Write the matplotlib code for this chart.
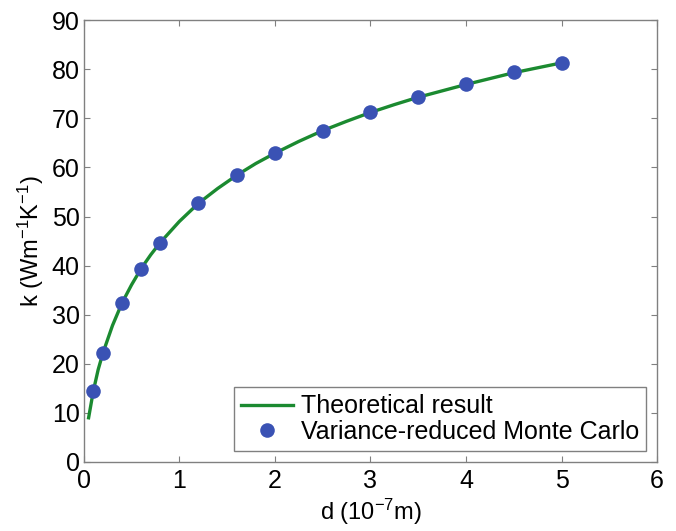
import matplotlib
matplotlib.use("Agg")
import matplotlib.pyplot as plt

plt.rcParams.update({"font.family": ["Liberation Sans", "DejaVu Sans"],
                     "mathtext.fontset": "custom",
                     "mathtext.rm": "Liberation Sans",
                     "mathtext.it": "Liberation Sans",
                     "mathtext.default": "regular"})

# theoretical curve
d_theory = [0.05, 0.1, 0.15, 0.2, 0.3, 0.4, 0.5, 0.6, 0.7, 0.8, 1.0, 1.2, 1.4,
            1.6, 1.8, 2.0, 2.25, 2.5, 2.75, 3.0, 3.25, 3.5, 3.75, 4.0, 4.25,
            4.5, 4.75, 5.0]
k_theory = [9.0, 14.5, 18.8, 22.2, 27.8, 32.4, 36.1, 39.4, 42.2, 44.7, 49.0,
            52.7, 55.7, 58.4, 60.8, 62.9, 65.3, 67.5, 69.4, 71.2, 72.8, 74.3,
            75.6, 76.9, 78.1, 79.3, 80.3, 81.3]

# Monte Carlo points
d_mc = [0.1, 0.2, 0.4, 0.6, 0.8, 1.2, 1.6, 2.0, 2.5, 3.0, 3.5, 4.0, 4.5, 5.0]
k_mc = [14.5, 22.2, 32.4, 39.4, 44.7, 52.7, 58.4, 62.9, 67.5, 71.2, 74.3,
        77.0, 79.4, 81.3]

fig = plt.figure(figsize=(6.76, 5.31), dpi=100)
ax = fig.add_axes([0.124, 0.130, 0.848, 0.832])

ax.plot(d_theory, k_theory, color="#1b8a30", lw=2.4, label="Theoretical result", zorder=2)
ax.plot(d_mc, k_mc, "o", color="#3a52b4", ms=10.5, mec="none",
        label="Variance-reduced Monte Carlo", zorder=3)

ax.set_xlim(0, 6); ax.set_ylim(0, 90)
ax.set_xticks(range(0, 7)); ax.set_yticks(range(0, 91, 10))
ax.tick_params(direction="in", top=True, right=True, length=4, color="#808080",
               labelsize=18, labelcolor="black", pad=3)
ax.tick_params(axis="x", pad=5)
for s in ax.spines.values():
    s.set_color("#808080"); s.set_linewidth(1.0)

ax.set_xlabel("d (10$^{-7}$m)", fontsize=17, labelpad=3)
ax.set_ylabel("k (Wm$^{-1}$K$^{-1}$)", fontsize=17, labelpad=4)

leg = ax.legend(loc="lower right", fontsize=18, fancybox=False, framealpha=1,
                edgecolor="#808080", handlelength=2.1, borderaxespad=0.45,
                labelspacing=0.05, borderpad=0.28, handletextpad=0.3)
leg.get_frame().set_linewidth(1.0)

fig.savefig("out.png", dpi=100)
